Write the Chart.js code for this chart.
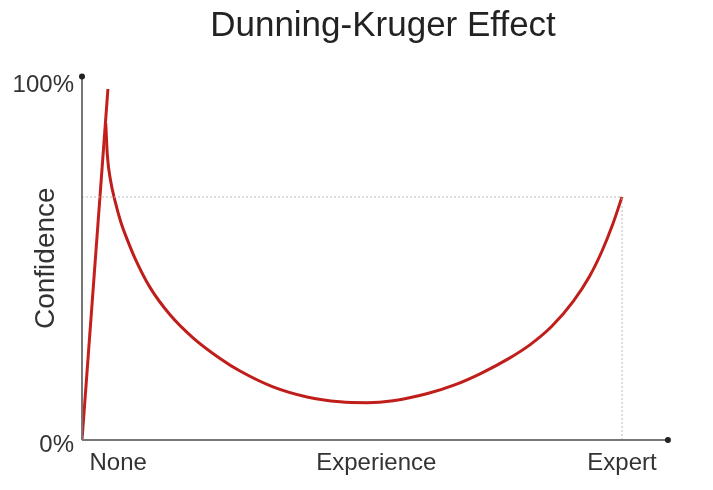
<!DOCTYPE html>
<html>
<head>
<meta charset="utf-8">
<script src="https://cdn.jsdelivr.net/npm/chart.js@4.4.1/dist/chart.umd.min.js"></script>
<style>
  html, body { margin: 0; padding: 0; background: #fff; }
  #wrap { width: 713px; height: 490px; }
</style>
</head>
<body>
<div id="wrap"><canvas id="c" width="713" height="490"></canvas></div>
<script>
// ---- data ----
const titleText = "Dunning-Kruger Effect";
const yAxisTitle = "Confidence";
const xTickValues = [6.7, 54.5, 100];
const xTickLabels = ["None", "Experience", "Expert"];
const yTickValues = [0, 100];
const yTickLabels = ["0%", "100%"];
const xAxisEnd = 108.5;   // where the x axis arrow ends
const yAxisEnd = 101;     // where the y axis arrow ends

// rising straight part
const riseX = [0, 4.8];
const riseY = [0, 97.5];

// descending then rising curve
const curveX = [4.4, 4.7, 5.3, 6.1, 7.2, 8.4, 9.9, 12.59, 16.30, 20.56, 25.56, 29.26, 35.37, 41.67, 47.78, 52.78, 57.6, 64, 69, 74, 79, 83, 87, 91, 94, 96.3, 98.3, 100];
const curveY = [88, 79, 72, 66.5, 60.5, 55.6, 50.2, 42.4, 34.8, 28.4, 22.65, 19.15, 14.75, 11.95, 10.6, 10.35, 10.9, 12.9, 15.3, 18.6, 22.6, 26.5, 31.6, 38.6, 45.5, 52.5, 60.0, 67.5];

// dotted reference lines
const refHX = [0, 100];
const refHY = [67.5, 67.5];
const refVX = [100, 100];
const refVY = [0, 67.5];

const toPts = (xs, ys) => xs.map((x, i) => ({ x: x, y: ys[i] }));

const FONT = "'Liberation Sans', Arial, Helvetica, sans-serif";

const axesWithArrows = {
  id: 'axesWithArrows',
  afterDatasetsDraw(chart) {
    const ctx = chart.ctx;
    const xs = chart.scales.x, ys = chart.scales.y;
    const x0 = xs.getPixelForValue(0), x1 = xs.getPixelForValue(xAxisEnd);
    const y0 = ys.getPixelForValue(0), y1 = ys.getPixelForValue(yAxisEnd);
    ctx.save();
    ctx.strokeStyle = '#777';
    ctx.lineWidth = 2;
    ctx.beginPath();
    ctx.moveTo(x0, y0); ctx.lineTo(x1, y0);
    ctx.moveTo(x0, y0); ctx.lineTo(x0, y1);
    ctx.stroke();
    ctx.fillStyle = '#222';
    ctx.beginPath(); ctx.arc(x1, y0, 3, 0, Math.PI * 2); ctx.fill();
    ctx.beginPath(); ctx.arc(x0, y1, 3, 0, Math.PI * 2); ctx.fill();
    ctx.restore();
  }
};

new Chart(document.getElementById('c'), {
  type: 'line',
  data: {
    datasets: [
      { data: toPts(refHX, refHY), borderColor: '#bdbdbd', borderWidth: 1, borderDash: [2, 2], pointRadius: 0, tension: 0 },
      { data: toPts(refVX, refVY), borderColor: '#bdbdbd', borderWidth: 1, borderDash: [2, 2], pointRadius: 0, tension: 0 },
      { data: toPts(riseX, riseY), borderColor: '#c41f1b', borderWidth: 3, pointRadius: 0, tension: 0 },
      { data: toPts(curveX, curveY), borderColor: '#bf1e1a', borderWidth: 3, pointRadius: 0, cubicInterpolationMode: 'monotone' }
    ]
  },
  options: {
    responsive: false,
    animation: false,
    layout: { padding: { left: 0, right: 29, top: 0, bottom: 0 } },
    plugins: {
      legend: { display: false },
      tooltip: { enabled: false },
      title: {
        display: true,
        fullSize: false,
        text: titleText,
        color: '#222',
        font: { family: FONT, size: 35, weight: 'normal', lineHeight: 1.2 },
        padding: { top: 5, bottom: 29.4 }
      }
    },
    scales: {
      x: {
        type: 'linear',
        min: 0,
        max: 111.48,
        grid: { display: false, drawTicks: false },
        border: { display: false },
        afterBuildTicks(scale) { scale.ticks = xTickValues.map(v => ({ value: v })); },
        afterFit(scale) { scale.height = 50; },
        ticks: {
          autoSkip: false,
          maxRotation: 0,
          padding: 9,
          color: '#333',
          font: { family: FONT, size: 24 },
          callback: (v, i) => xTickLabels[i]
        }
      },
      y: {
        type: 'linear',
        min: 0,
        max: yAxisEnd,
        grid: { display: false, drawTicks: false },
        border: { display: false },
        afterBuildTicks(scale) { scale.ticks = yTickValues.map(v => ({ value: v })); },
        afterFit(scale) { scale.width = 82; },
        title: {
          display: true,
          text: yAxisTitle,
          color: '#333',
          font: { family: FONT, size: 28 },
          padding: { top: 29, bottom: 0 }
        },
        ticks: {
          autoSkip: false,
          padding: 8,
          labelOffset: 5,
          color: '#333',
          font: { family: FONT, size: 24 },
          callback: (v, i) => yTickLabels[i]
        }
      }
    }
  },
  plugins: [axesWithArrows]
});
</script>
</body>
</html>
